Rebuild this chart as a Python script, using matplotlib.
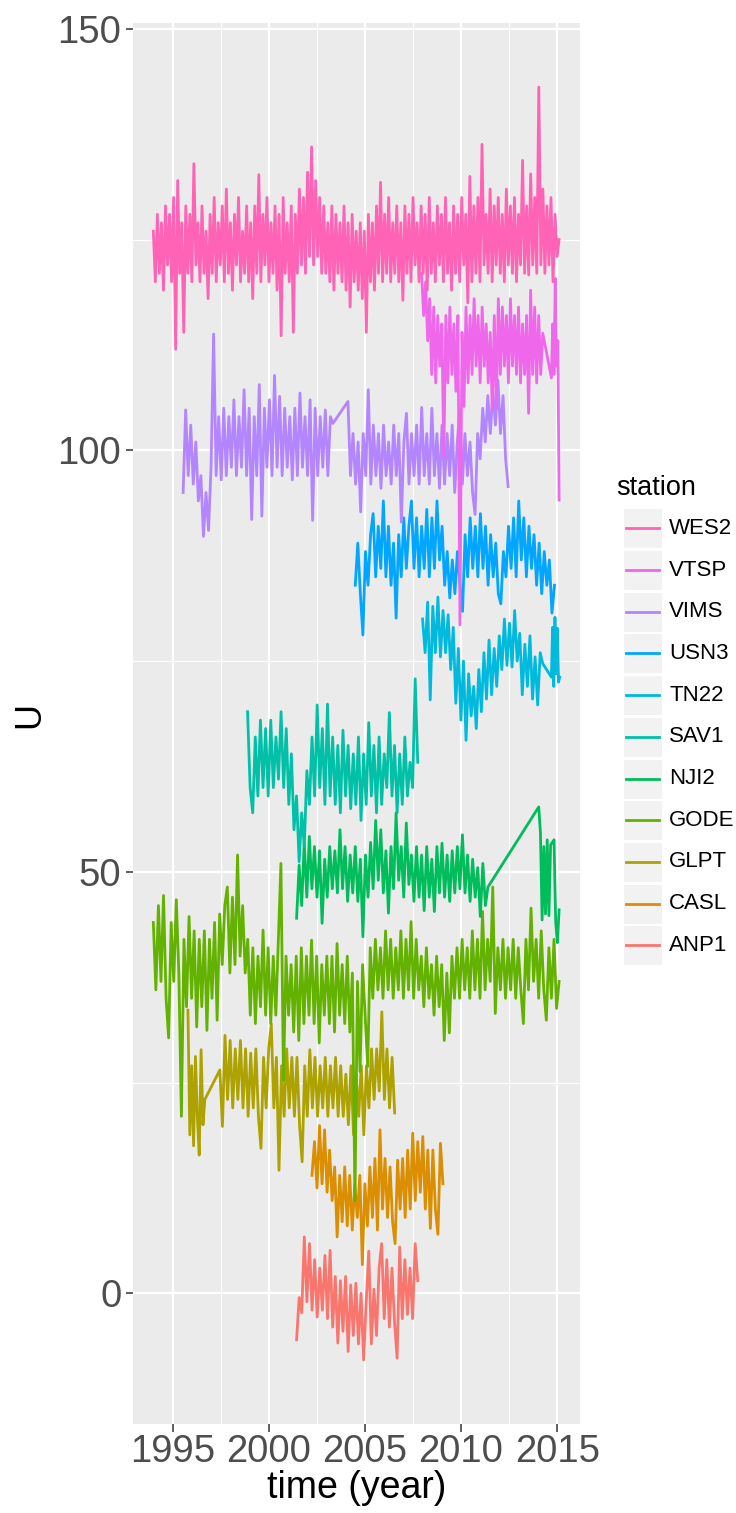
import numpy as np
import matplotlib
matplotlib.use("Agg")
import matplotlib.pyplot as plt
from matplotlib.patches import Rectangle
from matplotlib.ticker import MultipleLocator

plt.rcParams['font.family'] = ['Liberation Sans', 'DejaVu Sans']

# factor levels (drawing order); the legend lists them reversed
stations = ["ANP1", "CASL", "GLPT", "GODE", "NJI2", "SAV1",
            "TN22", "USN3", "VIMS", "VTSP", "WES2"]
colors = ["#F8766D", "#DB8E00", "#AEA200", "#64B200", "#00BD5C", "#00C1A7",
          "#00BADE", "#00A6FF", "#B385FF", "#EF67EB", "#FF63B6"]

# each station: spans (decimal year) and U values sampled evenly in each span,
# consecutive spans are joined by a straight segment (gap in the record)
anp1_t = [(2001.45, 2007.75)]
anp1_u = [[-5.5, -0.5, -2.3, 6.7, -1, 5.9, -2, 4, -2.8, 3,
           -2, 4.5, -3, 5.1, -4, 2, -5.9, 1.5, -4.5, 2,
           -6.9, 1, -5, 1.2, -6, 0, -7.9, -1, 5, -6,
           0.5, -5, 3, 5.9, -3, 4, -4, 3, -3.5, -7.7,
           5.5, -3, 4, -2.5, 3, -3, 5.9, 1.5]]

casl_t = [(2002.25, 2009.06)]
casl_u = [[14, 18, 12.5, 19.9, 13, 19.4, 12, 17, 11, 15,
           6.7, 14, 8.5, 15, 8, 14, 7.5, 13, 9, 14,
           3.4, 13, 8, 15, 9, 16, 7.5, 19.4, 10, 16,
           9, 15, 8.5, 5.9, 15.8, 10, 16, 9, 17, 10,
           19, 11, 18, 12, 18.6, 10, 17, 7.7, 17, 10,
           7, 17.8, 13]]

glpt_t = [(1995.8, 1996.68), (1997.46, 2006.55)]
glpt_u = [[33.6, 18.8, 27, 17.5, 28.1, 21, 16.4, 28.9, 20, 23],
          [26.5, 19.8, 30.6, 23, 30, 22, 29, 23, 30, 22,
           29, 21, 28.5, 22, 29, 21, 17.2, 28, 22, 29,
           32, 22, 28, 14.6, 27, 21, 29, 22, 28, 21,
           28, 20, 15.6, 27, 21, 28.9, 22, 28, 21, 27,
           22, 28, 21, 27, 22, 28, 21, 27, 21, 26,
           20, 27, 18.8, 26, 21, 27, 18.8, 27, 22, 29,
           23, 29, 24, 33.4, 23, 29, 22, 28, 21.4]]

gode_t = [(1994.0, 2015.1)]
gode_u = [[44, 36, 46, 37, 47.2, 35, 30.3, 44, 37, 46.7,
           38, 21, 42, 34, 44.7, 35, 43, 31.6, 42, 34,
           43, 31.2, 42, 35, 44, 32.4, 45, 39, 46, 48.2,
           38, 47, 39, 52, 40, 46, 38, 42, 33, 41,
           32, 40, 34, 43.1, 33, 41, 32, 40, 33, 42,
           51, 25.3, 40, 33, 39, 31, 40, 30, 41, 32,
           40, 33, 41.9, 32, 40, 29.7, 39, 33, 40, 32,
           40, 31, 41.5, 33, 39, 32, 40, 31, 38, 11,
           37, 26.3, 39, 33, 26.9, 41, 35, 42, 36, 41,
           35, 43, 36, 42, 35, 41, 36, 43, 35, 42,
           36, 44.1, 35, 42, 36, 40, 34, 41, 35, 39,
           33, 40, 34, 39, 30, 38, 30.9, 40, 35, 41,
           35, 42, 36, 41, 35, 43, 36, 42, 35, 45.3,
           36, 42, 37, 48.2, 33.2, 41, 36, 42, 35, 41,
           36, 42, 35, 41, 36, 32, 42, 36, 45.7, 37,
           42, 35, 43, 36, 32.4, 41, 35, 42, 33.8, 37]]

nji2_t = [(2001.45, 2011.4), (2014.04, 2015.1)]
nji2_u = [[44.5, 50.8, 46, 53.5, 47, 54.2, 48, 53, 47, 52.5,
           43.9, 51.5, 47, 53, 48, 52.5, 47.5, 55, 48, 53,
           46.5, 52, 47.5, 53, 46.5, 51.5, 42.3, 52, 47, 53.5,
           48, 56.1, 49, 55, 47.5, 52.5, 45.1, 53, 48, 57,
           49, 53, 47, 55.8, 48.5, 52, 46.5, 53, 47, 52,
           45.4, 53, 47, 51.5, 45.3, 53, 47.5, 53.4, 47, 52,
           46.5, 52.5, 47.5, 53, 48, 54.4, 47.5, 52, 46.5, 51.5,
           47, 50.5, 44.7, 51, 46, 48.2],
          [57.7, 54.7, 44.3, 53, 45, 53.8, 44.8, 53.2, 53.5, 53.8, 44, 41.6, 45.5]]

sav1_t = [(1998.9, 2007.75)]
sav1_u = [[69, 60, 57, 66, 59, 68, 60, 67, 59, 68,
           60, 66, 61, 69, 60, 67, 58, 64, 55, 59,
           51.2, 57, 53, 62, 58, 66, 59, 69.8, 60, 67,
           58, 69.9, 59, 66, 58, 65, 57, 66.8, 59, 65,
           57.5, 64, 58, 66, 56.1, 64, 58, 67.7, 59, 65,
           57, 66, 58, 64, 60, 68.9, 59, 65, 57, 64,
           58, 66, 59, 63, 60, 72.9, 63]]

tn22_t = [(2008.0, 2014.25), (2014.7, 2015.13)]
tn22_u = [[80, 76, 82, 70.4, 81.5, 76, 82.6, 75.5, 81, 76,
           80.5, 74, 79, 70, 76.5, 68, 75, 65.6, 73.5, 68.5,
           72, 67, 74, 69, 76, 70.5, 77.5, 71, 76.5, 72,
           78, 74, 80, 74.5, 79.5, 74.3, 81, 75, 78.3, 71,
           77, 72, 78, 70.5, 75.5, 69.8, 76, 74.7],
          [73.1, 79, 72, 80.2, 73.5, 78.9, 72.5, 73.1]]

usn3_t = [(2004.5, 2014.86)]
usn3_u = [[84, 89, 83, 78.1, 88, 84, 90, 92.5, 85, 91,
           86, 94, 85, 91, 84, 89, 80.1, 90, 85, 92,
           86, 91, 94, 86, 92, 85, 91, 86, 93, 85,
           92, 86, 94, 87, 91, 84, 88, 82.5, 87, 83,
           88, 84, 80.9, 90, 85, 92, 86, 91, 85, 92.5,
           86, 91, 84, 90, 85, 89, 83, 81.8, 88, 85,
           91, 86, 92, 85, 94, 87, 92, 85, 91, 86,
           90, 84, 89, 83, 88, 84, 87, 80.7, 84]]

vims_t = [(1995.55, 2003.34), (2004.12, 2012.45)]
vims_u = [[95, 104.8, 97, 103, 96, 101, 94, 97, 89.8, 95,
           90.5, 98, 113.8, 97, 104, 96.5, 105, 97, 104, 98,
           106, 97, 104, 98, 107.2, 97, 105, 91.8, 104, 97,
           107.8, 92.2, 105, 98, 106, 97, 108.9, 98, 106.4, 97,
           105, 98, 104, 96.5, 105, 97, 106.8, 98, 104, 97,
           106, 91.7, 105, 97, 104, 98, 104.8, 97, 104, 103.2],
          [105.8, 97, 102, 96, 101, 92.7, 102, 97, 107.2, 96,
           103, 97, 102, 95.5, 103, 97, 101, 96, 103, 97,
           102, 91.5, 101, 104.4, 96, 102, 97, 103, 96, 105.1,
           97, 102, 96, 105, 97, 102, 95.5, 103, 96, 102,
           97, 103, 95, 101, 104.8, 96, 102, 97, 101, 95,
           92.4, 102, 99, 105, 101, 106.5, 102, 107, 103, 108.3,
           102, 106.5, 99, 95.7]]

vtsp_t = [(2007.95, 2014.25), (2014.7, 2015.1)]
vtsp_u = [[121, 116, 120, 113, 118, 109, 117, 108, 116, 110,
           115, 99.3, 116, 108, 117, 109, 115, 107, 116, 79.3,
           114, 105.2, 117, 108, 116, 109, 118, 110, 116, 108,
           117, 110, 115, 108, 114, 104.8, 116, 105, 118, 109,
           117, 110, 116, 108, 118, 110, 116, 109, 117, 108,
           115, 109, 116, 104.4, 119, 109, 117, 108, 116, 109,
           113.9],
          [108.6, 115, 109, 120.4, 110, 113, 94.1]]

wes2_t = [(1994.0, 2015.1)]
wes2_u = [[126, 120, 128, 121, 127, 119, 129, 122, 128, 120,
           130, 112, 132, 121, 127, 114, 129, 121, 128, 120,
           134, 122, 127, 120, 129, 121, 126, 118, 128, 121,
           130, 120, 127, 122, 129, 120, 131, 121, 127, 119,
           128, 122, 130, 120, 126, 121, 129, 120, 127, 118,
           129, 121, 132.7, 120, 128, 122, 130, 120, 127, 121,
           129, 119, 128, 113.6, 130, 121, 127, 120, 129, 114,
           128, 121, 131, 122, 130, 121, 133, 123, 136, 122,
           132, 123, 130, 121, 129, 121, 127, 120, 129, 119,
           128, 121, 127, 120, 129, 119, 127, 117, 128, 120,
           126, 119, 127, 118, 126, 114, 128, 120, 127, 119,
           129, 121, 131.8, 120, 128, 121, 130, 120, 127, 121,
           129, 120, 127, 117.8, 129, 121, 128, 120, 130, 122,
           127, 120, 129, 121, 128, 119, 130, 121, 127, 120,
           129, 122, 128, 120, 130, 121, 127, 119, 129, 121,
           128, 120, 130, 122, 128, 117.5, 132.5, 120, 129, 121,
           130, 120, 136.3, 122, 128, 121, 131, 120, 129, 122,
           130, 121, 128, 120, 131, 122, 129, 121, 130, 120,
           128, 122, 134.4, 121, 129, 120.8, 132.8, 122, 130, 121,
           143.1, 122, 131, 121, 129, 122, 130, 120, 128, 123,
           125]]

series = {
    "ANP1": (anp1_t, anp1_u), "CASL": (casl_t, casl_u),
    "GLPT": (glpt_t, glpt_u), "GODE": (gode_t, gode_u),
    "NJI2": (nji2_t, nji2_u), "SAV1": (sav1_t, sav1_u),
    "TN22": (tn22_t, tn22_u), "USN3": (usn3_t, usn3_u),
    "VIMS": (vims_t, vims_u), "VTSP": (vtsp_t, vtsp_u),
    "WES2": (wes2_t, wes2_u),
}

W, H = 736, 1513
fig = plt.figure(figsize=(W / 100, H / 100), dpi=100)
fig.patch.set_facecolor("white")

# panel placement in pixels
L, R, T, B = 133, 580, 23.4, 1423.6
ax = fig.add_axes([L / W, 1 - B / H, (R - L) / W, (B - T) / H])
ax.set_facecolor("#EBEBEB")
for s in ax.spines.values():
    s.set_visible(False)

LW = 2.0
all_t, all_u = [], []
for name, col in zip(stations, colors):
    spans, vals = series[name]
    t = np.concatenate([np.linspace(a, b, len(v)) for (a, b), v in zip(spans, vals)])
    u = np.concatenate([np.asarray(v, dtype=float) for v in vals])
    ax.plot(t, u, color=col, lw=LW, solid_joinstyle="round", zorder=3)
    all_t.append(t)
    all_u.append(u)

all_t = np.concatenate(all_t)
all_u = np.concatenate(all_u)
pt = 0.05 * (all_t.max() - all_t.min())
pu = 0.05 * (all_u.max() - all_u.min())
ax.set_xlim(all_t.min() - pt, all_t.max() + pt)
ax.set_ylim(all_u.min() - pu, all_u.max() + pu)

ax.xaxis.set_major_locator(MultipleLocator(5))
ax.xaxis.set_minor_locator(MultipleLocator(2.5))
ax.yaxis.set_major_locator(MultipleLocator(50))
ax.yaxis.set_minor_locator(MultipleLocator(25))
ax.set_axisbelow(True)
ax.grid(which="major", color="white", lw=1.6)
ax.grid(which="minor", color="white", lw=0.8)
ax.tick_params(which="major", length=5.4, width=1.1, color="#333333",
               labelcolor="#4D4D4D", labelsize=27.5)
ax.tick_params(axis="x", which="major", pad=2)
ax.tick_params(axis="y", which="major", pad=3)
ax.tick_params(which="minor", length=0)

ax.set_xlabel("time (year)", fontsize=27, color="black")
ax.xaxis.set_label_coords(0.5, (B - 1488) / (B - T))
ax.xaxis.label.set_va("center")
ax.set_ylabel("U", fontsize=26, color="black")
ax.yaxis.set_label_coords((30 - L) / (R - L), (B - 715) / (B - T))
ax.yaxis.label.set_va("center")

# legend drawn in pixel coordinates
ov = fig.add_axes([0, 0, 1, 1], zorder=-1)
ov.set_xlim(0, W)
ov.set_ylim(H, 0)
ov.axis("off")
ov.text(616, 488, "station", fontsize=19.5, va="center", ha="left")
for k, (name, col) in enumerate(zip(stations[::-1], colors[::-1])):
    yc = 528.3 + k * 41.7
    ov.add_patch(Rectangle((622.7, yc - 20), 39, 40, facecolor="#F2F2F2",
                           edgecolor="white", lw=0.8))
    ov.plot([626, 659], [yc, yc], color=col, lw=LW)
    ov.text(669, yc, name, fontsize=16, va="center", ha="left")

fig.savefig("out.png", dpi=100, facecolor="white")
